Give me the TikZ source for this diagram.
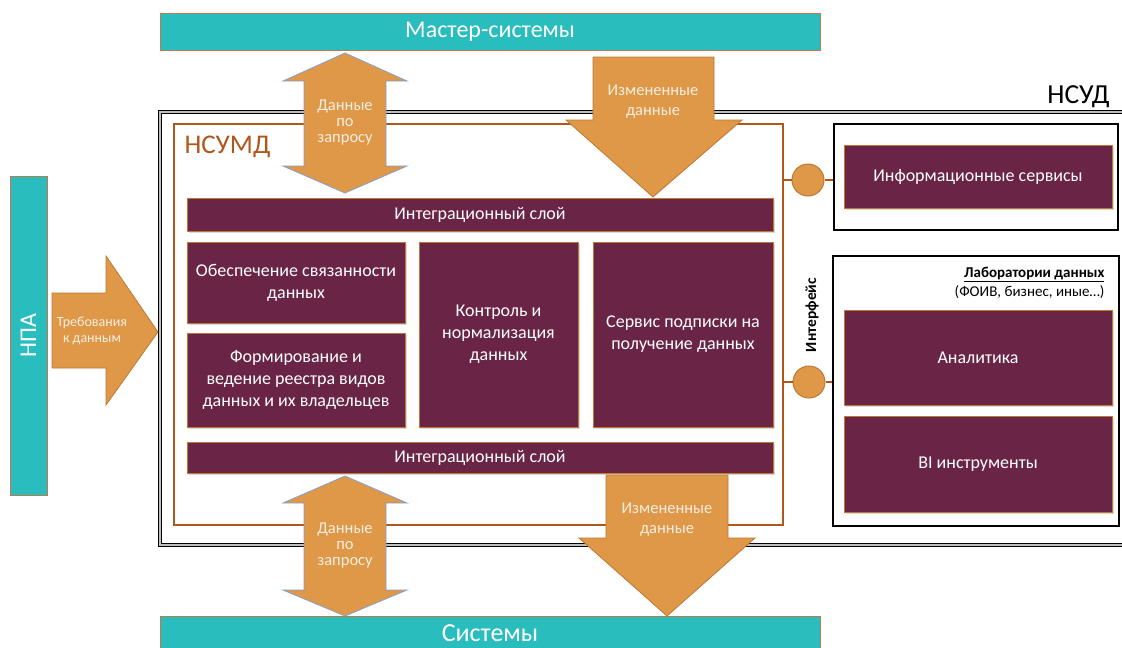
\documentclass[tikz,border=0pt]{standalone}
\usepackage{fontspec}
\setmainfont{Carlito}
\usetikzlibrary{shadows}
\definecolor{barteal}{RGB}{41,189,189}
\definecolor{boxwine}{RGB}{106,37,70}
\definecolor{flowfill}{RGB}{222,152,72}
\definecolor{flowedge}{RGB}{190,120,50}
\definecolor{flowblue}{RGB}{130,160,205}
\definecolor{framebrown}{RGB}{176,88,28}
\definecolor{flowtext}{RGB}{248,238,225}
\newcommand{\fs}[2]{\fontsize{#1}{#2}\selectfont}
\tikzset{
  bar/.style={fill=barteal, draw=framebrown!80, line width=0.7pt, text=white, inner sep=0pt},
  wine/.style={fill=boxwine, draw=flowedge, line width=0.5pt, text=white, align=center, inner sep=0pt,
    font=\fs{18}{22}, drop shadow={shadow xshift=1.5pt, shadow yshift=-1.5pt, opacity=.3}},
  frame/.style={draw=black, line width=2pt, inner sep=0pt},
  flow/.style={fill=flowfill, draw=flowedge, line width=0.8pt, line join=miter},
  flowboth/.style={flow, draw=flowblue},
  flowlabel/.style={text=flowtext, align=center, inner sep=0pt},
  plug/.style={circle, fill=flowfill, draw=flowedge, line width=1pt, minimum size=32pt, inner sep=0pt}
}
\begin{document}
\begin{tikzpicture}[x=1pt,y=-1pt]
\useasboundingbox (0,0) rectangle (1122,648);
% НСУД
\draw[black, line width=.9pt, double=gray!50, double distance=1.6pt] (160,112) rectangle (1140,545);
\node[anchor=base east, font=\fs{27.5}{30}] (nsudLabel) at (1113,103) {НСУД};
% НСУМД
\node[draw=framebrown, line width=1.6pt, minimum width=609pt, minimum height=401pt, inner sep=0pt] (nsumd) at (478.5,324.5) {};
\node[anchor=base west, text=framebrown, font=\fs{27}{30}] (nsumdLabel) at (181,153) {НСУМД};
\node[bar, minimum width=660pt, minimum height=37pt, font=\fs{24}{26}] (master) at (490,31.5) {Мастер-системы};
\node[bar, minimum width=660pt, minimum height=34pt, font=\fs{26}{28}] (systems) at (490,633) {Системы};
\node[bar, minimum width=319pt, minimum height=37pt, font=\fs{24}{26}, rotate=90] (npa) at (28.5,335.5) {НПА};
\node[wine, minimum width=586pt, minimum height=33pt] (layerTop) at (480,214.5) {Интеграционный слой};
\node[wine, minimum width=218pt, minimum height=81pt] (linking) at (296,283) {Обеспечение связанности\\данных};
\node[wine, minimum width=218pt, minimum height=94pt] (registry) at (296,380) {Формирование и\\ведение реестра видов\\данных и их владельцев};
\node[wine, minimum width=159pt, minimum height=185pt] (control) at (498.5,334.5) {Контроль и\\нормализация\\данных};
\node[wine, minimum width=180pt, minimum height=185pt] (subscribe) at (683,334.5) {Сервис подписки на\\получение данных};
\node[wine, minimum width=586pt, minimum height=31pt] (layerBottom) at (480,457.5) {Интеграционный слой};
% справа
\node[frame, minimum width=284pt, minimum height=106pt] (infoFrame) at (976,177) {};
\node[wine, minimum width=268pt, minimum height=63pt] (info) at (978,176.5) {Информационные сервисы};
\node[frame, minimum width=286pt, minimum height=270pt] (labFrame) at (976,391) {};
\node[anchor=base east, font=\bfseries\fs{15}{17}] (labTitle) at (1108,277) {\underline{Лаборатории данных}};
\node[anchor=base east, font=\fs{15}{17}] (labNote) at (1108,296) {(ФОИВ, бизнес, иные…)};
\node[wine, minimum width=268pt, minimum height=95pt] (analytics) at (978,357.5) {Аналитика};
\node[wine, minimum width=268pt, minimum height=96pt] (bi) at (978,464) {BI инструменты};
% интерфейс
\node[plug] (ifTop) at (808,180) {};
\node[plug] (ifBottom) at (809,382) {};
\draw[framebrown, line width=1.6pt] (nsumd.east |- ifTop) -- (ifTop.west) (ifTop.east) -- (infoFrame.west |- ifTop);
\draw[framebrown, line width=1.6pt] (nsumd.east |- ifBottom) -- (ifBottom.west) (ifBottom.east) -- (labFrame.west |- ifBottom);
\node[rotate=90, font=\bfseries\fs{15.5}{17}] (ifLabel) at (812,315) {Интерфейс};
% стрелки
\draw[flowboth] (345,53) -- (407,81) -- (386,81) -- (386,166) -- (407,166) -- (345,193) -- (283,166) -- (304,166) -- (304,81) -- (283,81) -- cycle;
\node[flowlabel, font=\fs{16.5}{16}] (askTop) at (345,123) {Данные\\по\\запросу};
\draw[flow] (593,57) -- (714,57) -- (714,120) -- (742,120) -- (653,197) -- (566,120) -- (593,120) -- cycle;
\node[flowlabel, font=\fs{16.5}{20}] (changedTop) at (653,102) {Измененные\\данные};
\draw[flowboth] (345,476) -- (407,503) -- (386,503) -- (386,590) -- (407,590) -- (345,616) -- (283,590) -- (304,590) -- (304,503) -- (283,503) -- cycle;
\node[flowlabel, font=\fs{16.5}{16}] (askBottom) at (345,546) {Данные\\по\\запросу};
\draw[flow] (606,475) -- (728,475) -- (728,538) -- (755,538) -- (667,616) -- (579,538) -- (606,538) -- cycle;
\node[flowlabel, font=\fs{16.5}{20}] (changedBottom) at (667,520) {Измененные\\данные};
\draw[flow] (52,293) -- (106,293) -- (106,256) -- (158,332) -- (106,405) -- (106,368) -- (52,368) -- cycle;
\node[flowlabel, font=\fs{14}{15.5}] (needs) at (92,331) {Требования\\к данным};
\end{tikzpicture}
\end{document}
